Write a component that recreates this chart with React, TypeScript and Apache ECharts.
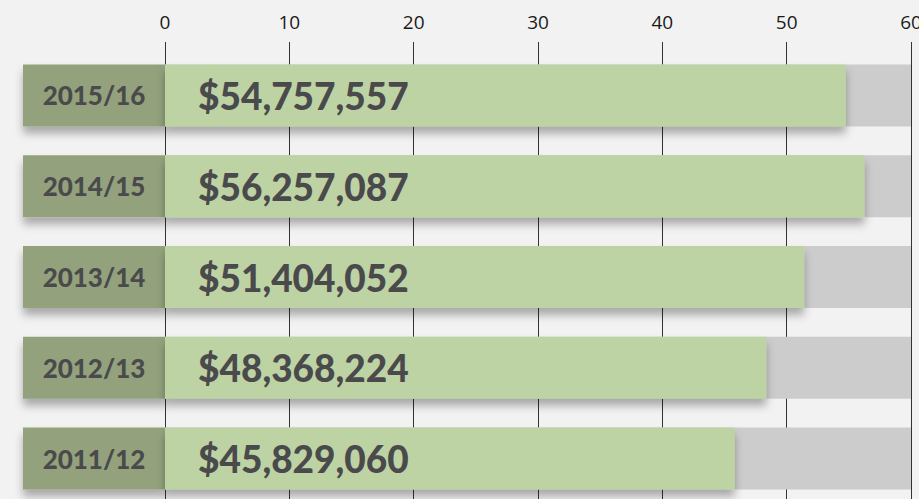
import React, { useEffect, useRef } from "react";
import * as echarts from "echarts";

const categories = ["2015/16", "2014/15", "2013/14", "2012/13", "2011/12"];
const amounts = [54757557, 56257087, 51404052, 48368224, 45829060];
const amountsMillions = amounts.map((v) => v / 1e6);
const axisTicks = [0, 10, 20, 30, 40, 50, 60];

const fmt = (v: number) => "$" + v.toLocaleString("en-US");

export default function App() {
  const ref = useRef<HTMLDivElement>(null);
  useEffect(() => {
    if (!ref.current) return;
    const chart = echarts.init(ref.current, null, { renderer: "svg" });
    chart.setOption({
      animation: false,
      backgroundColor: "#f2f2f2",
      grid: {
        left: 165,
        right: 8,
        top: 50,
        height: 454,
        containLabel: false,
        outerBoundsMode: "none",
      },
      xAxis: {
        type: "value",
        position: "top",
        min: axisTicks[0],
        max: axisTicks[axisTicks.length - 1],
        interval: 10,
        axisLine: { show: false },
        axisTick: { show: true, length: 8, lineStyle: { color: "#333", width: 1 } },
        axisLabel: {
          margin: 19,
          color: "#1a1a1a",
          fontSize: 19,
          fontFamily: "Open Sans",
          hideOverlap: false,
        },
        splitLine: { show: true, lineStyle: { color: "#333", width: 1 } },
      },
      yAxis: {
        type: "category",
        data: categories,
        inverse: true,
        axisLine: { show: false },
        axisTick: { show: false },
        axisLabel: {
          margin: 0,
          formatter: (v: string) => "{a|" + v + "}",
          rich: {
            a: {
              width: 142,
              height: 62,
              lineHeight: 62,
              align: "center",
              backgroundColor: "#93a27c",
              color: "#4a4a4c",
              fontSize: 26,
              fontWeight: 900,
              fontFamily: "Lato",
              shadowColor: "rgba(0,0,0,0.3)",
              shadowBlur: 8,
              shadowOffsetY: 7,
            },
          },
        },
      },
      series: [
        {
          type: "bar",
          data: amountsMillions,
          barWidth: 62,
          showBackground: true,
          backgroundStyle: { color: "#cccccc" },
          itemStyle: {
            color: "#bdd3a4",
            shadowColor: "rgba(0,0,0,0.3)",
            shadowBlur: 8,
            shadowOffsetY: 7,
          },
          label: {
            show: true,
            position: "insideLeft",
            distance: 33,
            formatter: (p: any) => fmt(amounts[p.dataIndex]),
            color: "#4a4a4c",
            fontSize: 37,
            fontWeight: 900,
            fontFamily: "Lato",
          },
        },
      ],
    });
    return () => chart.dispose();
  }, []);
  return (
    <div
      ref={ref}
      style={{ position: "absolute", left: 0, top: 0, width: 919, height: 499 }}
    />
  );
}
